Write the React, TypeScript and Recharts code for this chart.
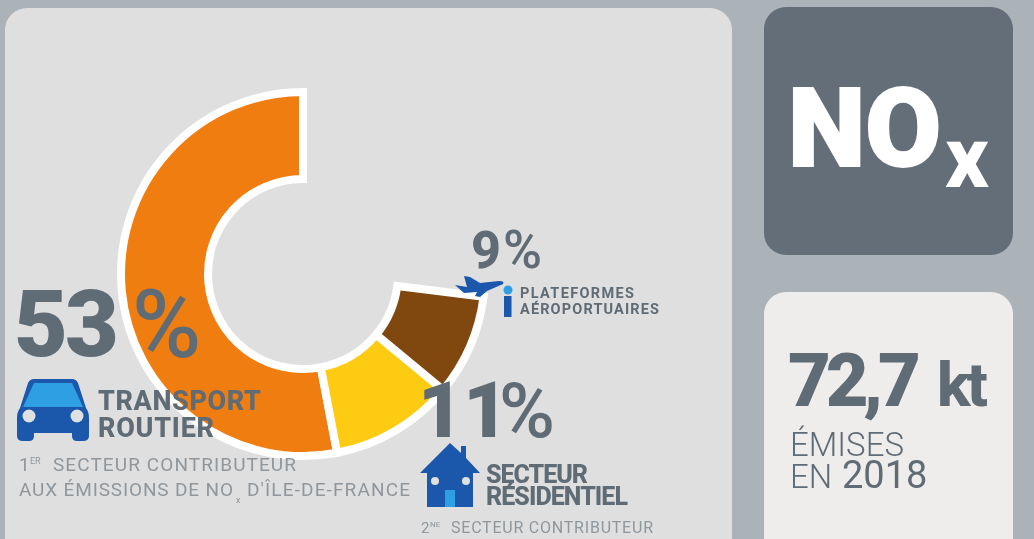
import { PieChart, Pie, Cell } from "recharts";

const sectors = ["Transport routier", "Secteur résidentiel", "Plateformes aéroportuaires", "Autres"];
const shares = [53, 11, 9, 27];
const sliceColors = ["#f07d10", "#fdcb12", "#80480f", "none"];

const data = sectors.map((name, i) => ({ name, value: shares[i] }));

const GREY = "#5f6b75";
const LIGHT = "#8f979d";
const BLUE = "#1b57ab";
const SKY = "#2f9fe3";

const panel = (left: number, top: number, width: number, height: number, background: string) => (
  <div style={{ position: "absolute", left, top, width, height, background, borderRadius: 22 }} />
);

const Icons = () => (
  <g>
    {/* car */}
    <path d="M34 379 H72 Q76 379 78 383 L86 408 Q89 412 89 418 V436 Q89 441 83 441 H77 Q72 441 72 436 V433 H34 V436 Q34 441 29 441 H23 Q17 441 17 436 V418 Q17 412 20 408 L28 383 Q30 379 34 379 Z" fill={BLUE} />
    <path d="M34 383 H72 L83 407 H23 Z" fill={SKY} />
    <circle cx="29" cy="416" r="6.5" fill="#dfe0e1" />
    <circle cx="77" cy="416" r="6.5" fill="#dfe0e1" />
    {/* house */}
    <path d="M450 443 L461 453 V446 H466 V458 L480 473 H473 V507 H427 V473 H420 Z" fill={BLUE} />
    <circle cx="435" cy="481" r="4" fill="#dfe0e1" />
    <circle cx="466" cy="481" r="4" fill="#dfe0e1" />
    <rect x="445" y="490" width="10" height="17" fill={SKY} />
    {/* plane */}
    <path d="M455 285 L467 287 L464 276 L470 277 L480 283 L499 281 Q505 281 503 284 L487 291 L480 297 L475 296 L477 292 L464 293 Z" fill={BLUE} />
    {/* info */}
    <circle cx="508" cy="290" r="4.5" fill={SKY} />
    <rect x="504" y="296" width="7.5" height="21" fill={BLUE} />
  </g>
);

const Labels = () => (
  <g fontFamily="Roboto" fill={GREY}>
    <text x="14" y="356" fontSize="93" fontWeight="900" textLength="105">53</text>
    <text x="132" y="357" fontSize="94" fontWeight="500">%</text>
    <text x="98" y="410" fontSize="27" fontWeight="800" textLength="163">TRANSPORT</text>
    <text x="98" y="437" fontSize="27" fontWeight="800" textLength="116">ROUTIER</text>
    <text x="19" y="471" fontSize="19" fill={LIGHT}>1</text>
    <text x="30" y="464" fontSize="9" fill={LIGHT}>ER</text>
    <text x="53" y="471" fontSize="19" fill={LIGHT} textLength="243">SECTEUR CONTRIBUTEUR</text>
    <text x="19" y="496" fontSize="19" fill={LIGHT} textLength="214">AUX ÉMISSIONS DE NO</text>
    <text x="236" y="503" fontSize="9" fill={LIGHT}>x</text>
    <text x="247" y="496" fontSize="19" fill={LIGHT} textLength="163">D'ÎLE-DE-FRANCE</text>

    <text x="471" y="268" fontSize="52" fontWeight="800">9</text>
    <text x="503" y="268" fontSize="53" fontWeight="500">%</text>
    <text x="520" y="298" fontSize="14.5" fontWeight="700" textLength="114">PLATEFORMES</text>
    <text x="520" y="314" fontSize="14.5" fontWeight="700" textLength="139">AÉROPORTUAIRES</text>

    <text x="418" y="437" fontSize="78" fontWeight="900">11</text>
    <text x="499" y="437" fontSize="76" fontWeight="500">%</text>
    <text x="486" y="483" fontSize="25" fontWeight="800" textLength="102">SECTEUR</text>
    <text x="486" y="505" fontSize="25" fontWeight="800" textLength="142">RÉSIDENTIEL</text>
    <text x="421" y="533" fontSize="15" fill={LIGHT}>2</text>
    <text x="430" y="527" fontSize="8" fill={LIGHT}>NE</text>
    <text x="451" y="533" fontSize="16" fill={LIGHT} textLength="202">SECTEUR CONTRIBUTEUR</text>

    <text x="788" y="166" fontSize="110" fontWeight="900" fill="#ffffff" stroke="#ffffff" strokeWidth={2}>NO</text>
    <text x="945" y="187" fontSize="86" fontWeight="800" fill="#ffffff">x</text>

    <text x="788" y="406" fontSize="74" fontWeight="900" textLength="133">72,7</text>
    <text x="937" y="406" fontSize="62" fontWeight="800" textLength="51">kt</text>
    <text x="790" y="456" fontSize="33" fontWeight="300" textLength="114">ÉMISES</text>
    <text x="790" y="488" fontSize="33" fontWeight="300">EN</text>
    <text x="842" y="488" fontSize="38" fontWeight="400">2018</text>
  </g>
);

export default function App() {
  return (
    <div style={{ position: "fixed", left: 0, top: 0, width: 1034, height: 539, overflow: "hidden", background: "#abb2b8", fontFamily: "Roboto" }}>
      <div style={{ position: "absolute", left: 0, top: 0, width: 1034, height: 539, filter: "blur(0.7px)" }}>
        {panel(5, 8, 727, 560, "#dfdfdf")}
        {panel(764, 7, 249, 248, "#636e78")}
        {panel(764, 292, 249, 280, "#efedeb")}
        <div style={{ position: "absolute", left: 0, top: 0 }}>
          <PieChart width={732} height={539} margin={{ top: 0, right: 0, bottom: 0, left: 0 }}>
            <Pie
              data={data}
              dataKey="value"
              nameKey="name"
              cx={303}
              cy={274}
              innerRadius={95}
              outerRadius={182}
              startAngle={90}
              endAngle={450}
              stroke="none"
              isAnimationActive={false}
            >
              {data.map((d, i) => (
                <Cell
                  key={d.name}
                  fill={sliceColors[i]}
                  stroke={sliceColors[i] === "none" ? "none" : "#ffffff"}
                  strokeWidth={8}
                />
              ))}
            </Pie>
          </PieChart>
        </div>
        <svg width={1034} height={539} style={{ position: "absolute", left: 0, top: 0 }}>
          <Icons />
          <Labels />
        </svg>
      </div>
    </div>
  );
}
